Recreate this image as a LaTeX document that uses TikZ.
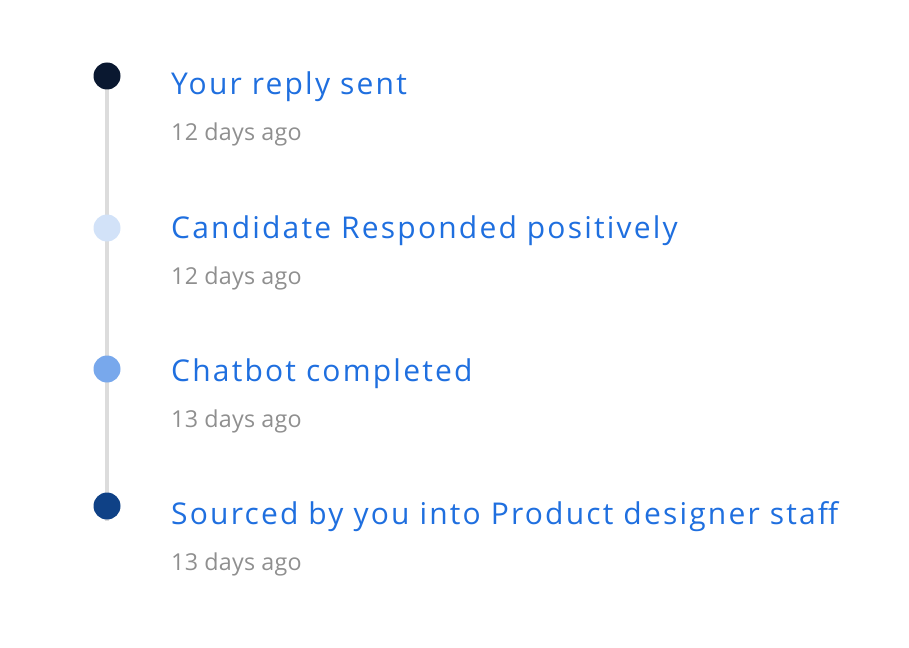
\documentclass[tikz,border=0pt]{standalone}
\usepackage{fontspec}
\setmainfont{Open Sans}
\newfontfamily\titlefont[LetterSpace=7.3]{Open Sans}
\newfontfamily\subfont[LetterSpace=1]{Open Sans}
\definecolor{titleblue}{HTML}{1F6FDF}
\definecolor{subgray}{HTML}{8F8F8F}
\definecolor{linegray}{HTML}{DCDCDC}
\definecolor{dotA}{HTML}{0A1830}
\definecolor{dotB}{HTML}{D2E2F8}
\definecolor{dotC}{HTML}{78A8EC}
\definecolor{dotD}{HTML}{0F4186}
\tikzset{
  dotnode/.style={circle, inner sep=0pt, minimum size=27pt},
  titletext/.style={anchor=base west, inner sep=0pt, text=titleblue, font=\titlefont\fontsize{30}{33}\selectfont},
  subtext/.style={anchor=base west, inner sep=0pt, text=subgray, font=\subfont\fontsize{23.3}{26}\selectfont},
}
\begin{document}
\begin{tikzpicture}[x=1pt,y=-1pt]
\useasboundingbox (0,0) rectangle (909,647);
\coordinate (lineend) at (107,521);
\node[dotnode] (d1) at (107,76) {};
\node[dotnode] (d2) at (107,228) {};
\node[dotnode] (d3) at (107,369) {};
\node[dotnode] (d4) at (107,506) {};
\draw[linegray, line width=4pt] (d1.center) -- (lineend);
\node[dotnode, fill=dotA] at (d1) {};
\node[dotnode, fill=dotB] at (d2) {};
\node[dotnode, fill=dotC] at (d3) {};
\node[dotnode, fill=dotD] at (d4) {};
\node[titletext] (t1) at (171,95) {Your reply sent};
\node[subtext] (s1) at (171,141) {12 days ago};
\node[titletext] (t2) at (171,238) {Candidate Responded positively};
\node[subtext] (s2) at (171,284) {12 days ago};
\node[titletext] (t3) at (171,381) {Chatbot completed};
\node[subtext] (s3) at (171,427) {13 days ago};
\node[titletext] (t4) at (171,524) {Sourced by you into Product designer staff};
\node[subtext] (s4) at (171,570) {13 days ago};
\end{tikzpicture}
\end{document}
